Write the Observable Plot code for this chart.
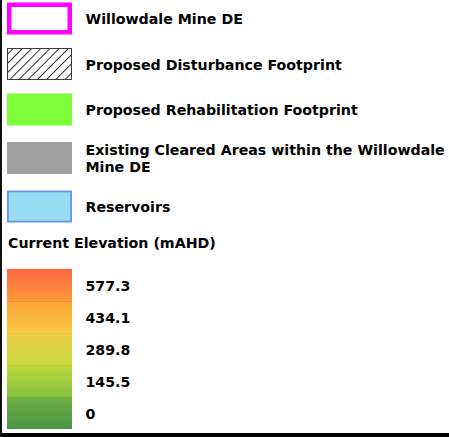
<!DOCTYPE html>
<html><head><meta charset="utf-8">
<script src="https://cdn.jsdelivr.net/npm/d3@7"></script>
<script src="https://cdn.jsdelivr.net/npm/@observablehq/plot@0.6"></script>
<style>
html,body{margin:0;padding:0;background:#fff;}
#frame{position:relative;width:449px;height:437px;box-sizing:border-box;border-left:2px solid #111;border-bottom:4px solid #000;overflow:hidden;background:#fff;}
#frame svg{position:absolute;left:0;}
#title{position:absolute;left:6px;top:235px;font:bold 14.2px "DejaVu Sans",sans-serif;line-height:16px;color:#000;white-space:nowrap;}
</style></head>
<body><div id="frame"></div>
<script>
// Legend content
const legendLabels = [
  "Willowdale Mine DE",
  "Proposed Disturbance Footprint",
  "Proposed Rehabilitation Footprint",
  "Existing Cleared Areas within the Willowdale\nMine DE",
  "Reservoirs"
];
const legendFills = ["#ffffff", "url(#hatch)", "#7dfc38", "#a0a0a0", "#98dcf2"];
const legendStrokes = ["#ff00ff", "#3a3a3a", "none", "none", "#6e8ff2"];
const legendStrokeWidths = [4.5, 1, 0, 0, 1.8];

const elevationTitle = "Current Elevation (mAHD)";
const elevationLabels = ["577.3", "434.1", "289.8", "145.5", "0"];
const rampTop = ["#ff6640", "#fba63a", "#eacd44", "#bcd83c", "#70ae44"];
const rampBottom = ["#ff9a3c", "#f8c840", "#c8d840", "#86c040", "#4a9444"];
const rampLine = [null, "#f0922c", "#e8c232", "#c2d22a", "#74aa2c"];

// SVG defs (hatch pattern and ramp gradients)
const defs = d3.select("body").append("svg")
  .attr("width", 0).attr("height", 0)
  .style("position", "absolute").append("defs");
const hs = 6.5;
const pat = defs.append("pattern").attr("id", "hatch")
  .attr("patternUnits", "userSpaceOnUse")
  .attr("width", hs).attr("height", hs)
  .attr("patternTransform", "rotate(45)");
pat.append("rect").attr("width", hs).attr("height", hs).attr("fill", "#fff");
pat.append("line").attr("x1", hs / 2).attr("x2", hs / 2).attr("y1", 0).attr("y2", hs)
  .attr("stroke", "#2a2a2a").attr("stroke-width", 1);

rampTop.forEach((c, i) => {
  const g = defs.append("linearGradient").attr("id", "ramp" + i)
    .attr("x1", 0).attr("y1", 0).attr("x2", 0).attr("y2", 1);
  if (rampLine[i]) {
    g.append("stop").attr("offset", "0%").attr("stop-color", rampLine[i]);
    g.append("stop").attr("offset", "3.5%").attr("stop-color", rampLine[i]);
    g.append("stop").attr("offset", "3.5%").attr("stop-color", c);
  } else {
    g.append("stop").attr("offset", "0%").attr("stop-color", c);
  }
  g.append("stop").attr("offset", "100%").attr("stop-color", rampBottom[i]);
});

// Row layout in "row units": a two-line label takes a little extra room
const extraPerLine = 0.132;
const swatchHalf = 0.352;
let acc = 0;
const items = legendLabels.map((label, i) => {
  const h = 1 + extraPerLine * (label.split("\n").length - 1);
  const center = acc + h / 2;
  acc += h;
  return {label, center, fill: legendFills[i], stroke: legendStrokes[i], sw: legendStrokeWidths[i]};
});

const textStyle = {
  textAnchor: "start", dx: 13, fontSize: 14.2, fontWeight: "bold",
  fontFamily: "DejaVu Sans", fill: "#000", lineHeight: 1.2
};

const plotA = Plot.plot({
  width: 447, height: 228,
  marginLeft: 5, marginRight: 377, marginTop: 0, marginBottom: 0,
  style: {background: "transparent", overflow: "visible"},
  x: {domain: [0, 1], axis: null},
  y: {type: "linear", domain: [0.0934, 5.104], reverse: true, axis: null},
  marks: [
    ...items.map(d => Plot.rect([d], {
      x1: () => 0, x2: () => 1,
      y1: r => r.center - swatchHalf, y2: r => r.center + swatchHalf,
      fill: d.fill, stroke: d.stroke, strokeWidth: d.sw, inset: d.sw / 2
    })),
    Plot.text(items, {x: () => 1, y: "center", text: "label", ...textStyle})
  ]
});
plotA.style.top = "0px";

const plotB = Plot.plot({
  width: 447, height: 173,
  marginLeft: 5, marginRight: 377, marginTop: 8.3, marginBottom: 4,
  style: {background: "transparent", overflow: "visible"},
  x: {domain: [0, 1], axis: null},
  y: {type: "band", domain: elevationLabels, padding: 0, axis: null},
  marks: [
    ...elevationLabels.map((v, i) => Plot.barX([v], {
      x1: () => 0, x2: () => 1, y: d => d, fill: `url(#ramp${i})`
    })),
    Plot.text(elevationLabels, {x: () => 1, y: d => d, text: d => d, ...textStyle})
  ]
});
plotB.style.top = "260px";

const frame = document.getElementById("frame");
frame.appendChild(plotA);
const title = document.createElement("div");
title.id = "title";
title.textContent = elevationTitle;
frame.appendChild(title);
frame.appendChild(plotB);
</script>
</body></html>
